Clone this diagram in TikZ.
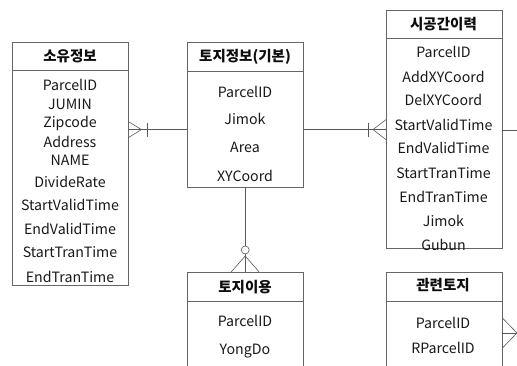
\documentclass[tikz,border=0pt]{standalone}
\usepackage{fontspec}
\setmainfont{Noto Sans CJK KR}
\usetikzlibrary{positioning}

\begin{document}
\begin{tikzpicture}[x=1pt, y=-1pt,
headbox/.style={rectangle, draw=black!60, fill=white, minimum width=116pt, minimum height=28pt, inner sep=0pt},
bodybox/.style={rectangle, draw=black!60, fill=white, minimum width=116pt, inner sep=0pt},
field/.style={font=\fontsize{14.2}{16}\selectfont, text=black!90, inner sep=0pt},
title/.style={font=\fontsize{14.5}{16}\selectfont\bfseries, text=black!95, inner sep=0pt},
link/.style={draw=black!65, line width=0.6pt},
]
\useasboundingbox (0,0) rectangle (517,366);
\clip (0,0) rectangle (517,366);

%Nodes
\node[headbox, anchor=north west] (ownhead)  at (12,42)  {};
\node[bodybox, minimum height=215pt, below=0pt of ownhead] (ownbody) {};
\node[headbox, anchor=north west, minimum height=29pt] (landhead) at (187,42) {};
\node[bodybox, minimum height=116pt, below=0pt of landhead] (landbody) {};
\node[headbox, anchor=north west] (histhead) at (386,10) {};
\node[bodybox, minimum height=210pt, below=0pt of histhead] (histbody) {};
\node[headbox, anchor=north west, minimum height=29pt] (usehead) at (187,272) {};
\node[bodybox, minimum height=80pt, below=0pt of usehead] (usebody) {};
\node[headbox, anchor=north west, minimum height=29pt] (relhead) at (386,272) {};
\node[bodybox, minimum height=80pt, below=0pt of relhead] (relbody) {};

%Titles
\node[title] (owntitle)  at (70,56)    {소유정보};
\node[title] (landtitle) at (245,57)   {토지정보(기본)};
\node[title] (histtitle) at (443.5,24) {시공간이력};
\node[title] (usetitle)  at (245,287)  {토지이용};
\node[title] (reltitle)  at (443,285)  {관련토지};

%Fields
\foreach \y/\t [count=\i] in {85/ParcelID, 104/JUMIN, 123/Zipcode, 142/Address, 160/NAME,
  182/DivideRate, 205/StartValidTime, 229/EndValidTime, 252/StartTranTime, 277/EndTranTime}
  \node[field] (own\i) at (70,\y) {\t};
\foreach \y/\t [count=\i] in {92/ParcelID, 119/Jimok, 147/Area, 176/XYCoord}
  \node[field] (land\i) at (245,\y) {\t};
\foreach \y/\t [count=\i] in {52/ParcelID, 77/AddXYCoord, 100/DelXYCoord, 125/StartValidTime,
  148/EndValidTime, 173/StartTranTime, 197/EndTranTime, 221/Jimok, 245/Gubun}
  \node[field] (hist\i) at (443.5,\y) {\t};
\foreach \y/\t [count=\i] in {321/ParcelID, 351/YongDo}
  \node[field] (use\i) at (245,\y) {\t};
\foreach \y/\t [count=\i] in {323/ParcelID, 348/RParcelID}
  \node[field] (rel\i) at (443,\y) {\t};

%Lines
\coordinate (ownend) at (landbody.west -| ownbody.east);
\draw[link] (landbody.west) -- (ownend);
\draw[link] ([shift={(0,-8)}]ownend) -- ++(13,8) -- ++(-13,8);
\draw[link] ([shift={(19,-7)}]ownend) -- ++(0,14);

\coordinate (histend) at (landbody.east -| histbody.west);
\draw[link] (landbody.east) -- (histend);
\draw[link] ([shift={(0,-10)}]histend) -- ++(-13,10) -- ++(13,10);
\draw[link] ([shift={(-18,-7)}]histend) -- ++(0,14);

\coordinate (histout) at (517,130);
\draw[link] (histout -| histbody.east) -- (histout);

\draw[link] (landbody.south) -- (usehead.north);
\draw[link, fill=white] ([yshift=22pt]usehead.north) circle (4);
\draw[link] ([shift={(-14,0)}]usehead.north) -- ++(14,-16) -- ++(14,16);

\coordinate (relout) at (517,333);
\draw[link] (relout -| relbody.east) -- (relout);
\draw[link] ([shift={(0,-15)}]relout -| relbody.east) -- (relout) -- ([shift={(0,15)}]relout -| relbody.east);
\end{tikzpicture}
\end{document}
